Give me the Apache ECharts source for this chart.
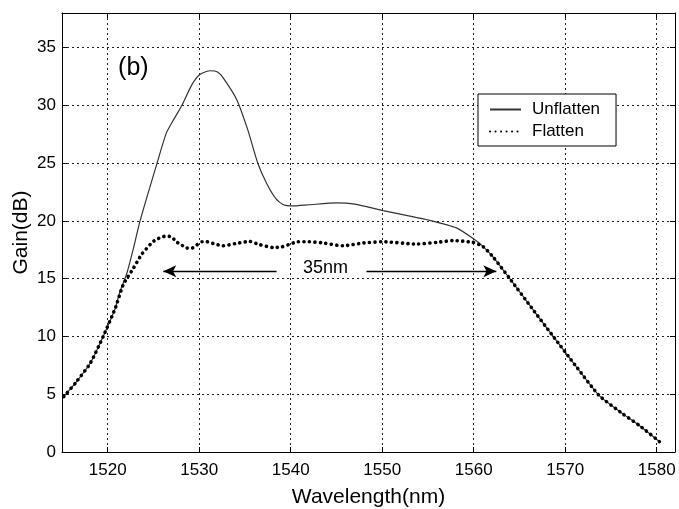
<!DOCTYPE html>
<html>
<head>
<meta charset="utf-8">
<script src="https://cdn.jsdelivr.net/npm/echarts@6/dist/echarts.min.js"></script>
<style>
html, body { margin: 0; padding: 0; background: #fff; }
#chart { width: 679px; height: 509px; }
</style>
</head>
<body>
<div id="chart"></div>
<script>
// values (b)
var flattenWl = [1515.2, 1516.5, 1518.1, 1519.5, 1520.8, 1521.7, 1522.8, 1523.7, 1524.8, 1525.3, 1525.9, 1526.4, 1527.0,
  1527.5, 1528.1, 1528.6, 1529.2, 1529.7, 1530.3, 1530.8, 1531.7, 1532.6, 1533.9, 1535.5, 1536.6, 1538.1, 1539.0,
  1540.3, 1540.8, 1542.0, 1543.5, 1545.7, 1548.0, 1550.1, 1553.7, 1556.0, 1557.7, 1559.9, 1561.0, 1562.1, 1563.9,
  1566.5, 1568.6, 1571.2, 1573.7, 1576.3, 1578.1, 1580.3];
var flattenGain = [4.8, 6.0, 7.7, 10.0, 12.4, 14.5, 15.9, 17.1, 18.1, 18.4, 18.6, 18.7, 18.6,
  18.2, 17.9, 17.65, 17.65, 17.9, 18.2, 18.2, 18.0, 17.85, 18.03, 18.23, 17.95, 17.7, 17.75,
  18.1, 18.2, 18.2, 18.1, 17.85, 18.1, 18.2, 18.0, 18.15, 18.3, 18.15, 17.8, 16.9, 15.05,
  12.3, 10.1, 7.4, 4.9, 3.3, 2.3, 0.9];

var unflattenWl = [1515.2, 1516.5, 1518.1, 1519.5, 1520.8, 1521.3, 1522.1, 1522.8, 1523.4, 1524.0, 1524.6, 1525.35,
  1526.4, 1527.3, 1528.1, 1529.2, 1530.1, 1531.2, 1532.0, 1532.6, 1534.1, 1535.3, 1536.4, 1537.4, 1538.4, 1539.2,
  1540.1, 1542.0, 1545.0, 1547.0, 1550.1, 1552.5, 1555.2, 1558.1, 1559.9, 1561.0, 1562.1, 1563.9,
  1566.5, 1568.6, 1571.2, 1573.7, 1576.3, 1578.1, 1580.3];
var unflattenGain = [4.8, 6.0, 7.7, 10.0, 12.4, 13.8, 15.5, 17.6, 19.6, 21.3, 22.9, 24.9,
  27.6, 28.9, 30.0, 31.8, 32.7, 33.0, 32.9, 32.4, 30.5, 27.9, 25.0, 23.2, 21.9, 21.4,
  21.3, 21.4, 21.56, 21.45, 20.9, 20.5, 20.05, 19.4, 18.5, 17.8, 16.9, 15.05,
  12.3, 10.1, 7.4, 4.9, 3.3, 2.3, 0.9];

var seriesNames = ['Unflatten', 'Flatten'];
var bandArrows = [
  [[1538.45, 15.65], [1526.07, 15.65]],
  [[1548.28, 15.65], [1562.47, 15.65]]
];
var bandText = { label: '35nm', at: [1543.8, 15.9] };
var panelText = { label: '(b)', at: [1522.8, 33.2] };

function pairs(xs, ys) {
  return xs.map(function (x, i) { return [x, ys[i]]; });
}

var font = 'Liberation Sans, Arial, sans-serif';
var grid = { type: [2, 3], color: '#222', width: 1 };

var myChart = echarts.init(document.getElementById('chart'));

myChart.setOption({
  animation: false,
  backgroundColor: '#fff',
  textStyle: { fontFamily: font, color: '#000' },
  grid: { left: 62, right: 4, top: 13, bottom: 57, outerBoundsMode: 'none' },
  legend: {
    data: seriesNames,
    orient: 'vertical',
    left: 478,
    top: 94,
    padding: [7, 16, 6, 11],
    itemWidth: 31,
    itemHeight: 14,
    itemGap: 5,
    borderColor: '#000',
    borderWidth: 1,
    backgroundColor: '#fff',
    itemStyle: { opacity: 0 },
    textStyle: { fontSize: 17, color: '#000', fontFamily: font, padding: [0, 0, 0, 6] }
  },
  xAxis: [{
    type: 'value',
    min: 1515, max: 1582,
    minInterval: 10, maxInterval: 10,
    name: 'Wavelength(nm)',
    nameLocation: 'middle',
    nameGap: 35,
    nameTextStyle: { fontSize: 21, color: '#000', fontFamily: font },
    axisLine: { onZero: false, lineStyle: { color: '#000', width: 1 } },
    axisTick: { inside: true, length: 5, lineStyle: { color: '#000' } },
    axisLabel: { fontSize: 17, color: '#000', margin: 10, showMinLabel: false, showMaxLabel: false,
      formatter: function (v) { return String(v); } },
    splitLine: { show: true, lineStyle: grid }
  }, {
    type: 'value',
    position: 'top',
    min: 1515, max: 1582,
    minInterval: 10, maxInterval: 10,
    axisLine: { onZero: false, lineStyle: { color: '#000', width: 1 } },
    axisTick: { inside: true, length: 5, lineStyle: { color: '#000' } },
    axisLabel: { show: false },
    splitLine: { show: false }
  }],
  yAxis: [{
    type: 'value',
    min: 0, max: 38, interval: 5,
    name: 'Gain(dB)',
    nameLocation: 'middle',
    nameGap: 30,
    nameMoveOverlap: false,
    nameTextStyle: { fontSize: 21, color: '#000', fontFamily: font },
    axisLine: { show: true, onZero: false, lineStyle: { color: '#000', width: 1 } },
    axisTick: { show: true, inside: true, length: 5, lineStyle: { color: '#000' } },
    axisLabel: { fontSize: 17, color: '#000', margin: 6, showMaxLabel: false },
    splitLine: { show: true, lineStyle: grid }
  }, {
    type: 'value',
    position: 'right',
    min: 0, max: 38, interval: 5,
    axisLine: { show: true, onZero: false, lineStyle: { color: '#000', width: 1 } },
    axisTick: { show: true, inside: true, length: 5, lineStyle: { color: '#000' } },
    axisLabel: { show: false },
    splitLine: { show: false }
  }],
  series: [{
    name: 'Unflatten',
    type: 'line',
    smooth: 0.2,
    symbol: 'none',
    data: pairs(unflattenWl, unflattenGain),
    lineStyle: { color: '#333', width: 1.2 },
    itemStyle: { color: '#333' }
  }, {
    name: 'Flatten',
    type: 'line',
    smooth: 0.2,
    symbol: 'none',
    data: pairs(flattenWl, flattenGain),
    lineStyle: { color: '#000', width: 3.6, type: [0.1, 5.4], cap: 'round' },
    itemStyle: { color: '#000' },
    z: 3
  }, {
    name: 'notes',
    type: 'line',
    data: [],
    silent: true,
    markLine: {
      silent: true,
      symbol: ['none', 'arrow'],
      symbolSize: [9, 13],
      label: { show: false },
      lineStyle: { color: '#000', width: 1.3, type: 'solid' },
      data: bandArrows.map(function (a) { return [{ coord: a[0] }, { coord: a[1] }]; })
    },
    markPoint: {
      silent: true,
      symbol: 'circle',
      symbolSize: 0,
      data: [
        { coord: bandText.at, value: bandText.label,
          label: { show: true, position: 'inside', formatter: bandText.label, fontSize: 18, color: '#000', fontFamily: font } },
        { coord: panelText.at, value: panelText.label,
          label: { show: true, position: 'inside', formatter: panelText.label, fontSize: 25, color: '#000', fontFamily: font } }
      ]
    }
  }]
});
</script>
</body>
</html>
